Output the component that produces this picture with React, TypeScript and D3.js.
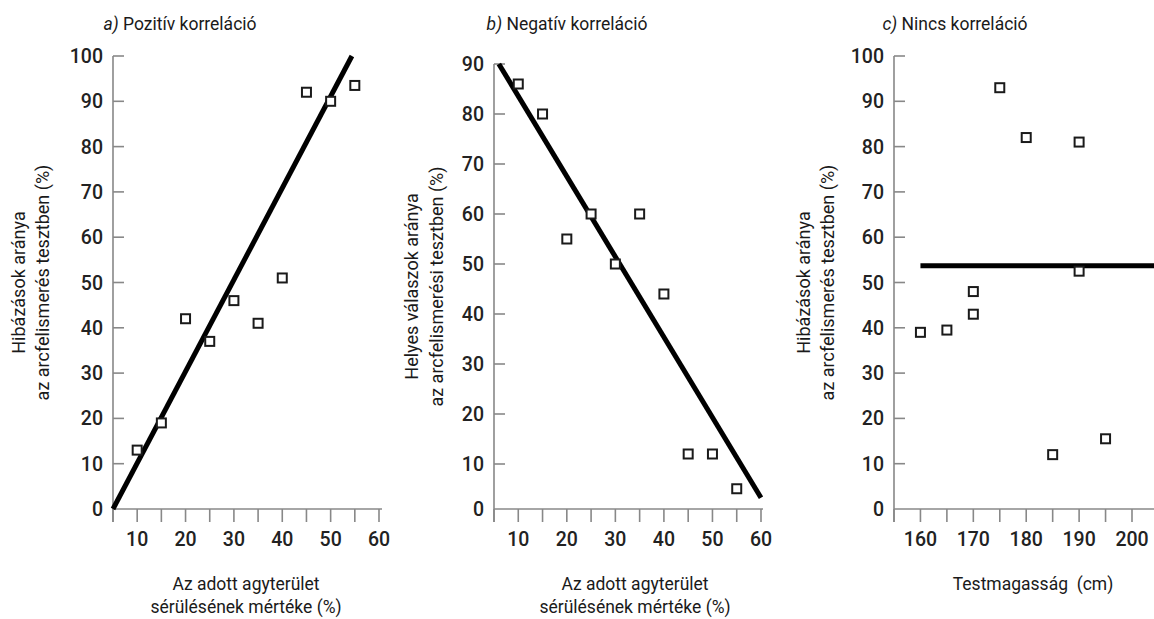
import React, { useEffect, useRef } from 'react';
import * as d3 from 'd3';

// a) brain damage (%) vs errors (%)
const damageA = [10, 15, 20, 25, 30, 35, 40, 45, 50, 55];
const errorsA = [13, 19, 42, 37, 46, 41, 51, 92, 90, 93.5];
const fitA = [[5, 0], [54.4, 100]];

// b) brain damage (%) vs correct answers (%)
const damageB = [10, 15, 20, 25, 30, 35, 40, 45, 50, 55];
const correctB = [86, 80, 55, 60, 50, 60, 44, 12, 12, 4.5];
const fitB = [[6, 90], [60, 2.5]];

// c) body height (cm) vs errors (%)
const heightC = [160, 165, 170, 170, 175, 180, 185, 190, 190, 195];
const errorsC = [39, 39.5, 48, 43, 93, 82, 12, 81, 52.5, 15.5];
const fitC = [[160, 53.7], [204.5, 53.7]];

const FONT = 'Roboto, "Liberation Sans", Arial, sans-serif';

interface Panel {
  letter: string;
  title: string;
  titleX: number;
  xs: number[];
  ys: number[];
  fit: number[][];
  x: d3.ScaleLinear<number, number>;
  y: d3.ScaleLinear<number, number>;
  axisEnd: number;
  xTicks: number[];
  yTicks: number[];
  yLabel: string[];
  yLabelX: number[];
  xLabel: string[];
  xLabelX: number;
}

const bottom = 509;

const panels: Panel[] = [
  {
    letter: 'a)', title: ' Pozitív korreláció', titleX: 180,
    xs: damageA, ys: errorsA, fit: fitA,
    x: d3.scaleLinear().domain([5, 60]).range([113, 379]),
    y: d3.scaleLinear().domain([0, 100]).range([bottom, 56]),
    axisEnd: 382,
    xTicks: d3.range(5, 61, 5), yTicks: d3.range(0, 101, 10),
    yLabel: ['Hibázások aránya', 'az arcfelismerés tesztben (%)'], yLabelX: [25, 49],
    xLabel: ['Az adott agyterület', 'sérülésének mértéke (%)'], xLabelX: 246,
  },
  {
    letter: 'b)', title: ' Negatív korreláció', titleX: 567,
    xs: damageB, ys: correctB, fit: fitB,
    x: d3.scaleLinear().domain([5, 60]).range([494, 761]),
    y: d3.scaleLinear().domain([0, 10, 90]).range([bottom, 464, 64]),
    axisEnd: 763,
    xTicks: d3.range(5, 61, 5), yTicks: d3.range(0, 91, 10),
    yLabel: ['Helyes válaszok aránya', 'az arcfelismerési tesztben (%)'], yLabelX: [418, 443],
    xLabel: ['Az adott agyterület', 'sérülésének mértéke (%)'], xLabelX: 635,
  },
  {
    letter: 'c)', title: ' Nincs korreláció', titleX: 955,
    xs: heightC, ys: errorsC, fit: fitC,
    x: d3.scaleLinear().domain([155, 200]).range([894, 1132]),
    y: d3.scaleLinear().domain([0, 100]).range([bottom, 56]),
    axisEnd: 1154,
    xTicks: d3.range(155, 201, 5), yTicks: d3.range(0, 101, 10),
    yLabel: ['Hibázások aránya', 'az arcfelismerés tesztben (%)'], yLabelX: [810, 834],
    xLabel: ['Testmagasság  (cm)'], xLabelX: 1033,
  },
];

export default function App() {
  const ref = useRef<SVGSVGElement>(null);

  useEffect(() => {
    const svg = d3.select(ref.current);
    svg.selectAll('*').remove();

    panels.forEach((p) => {
      const g = svg.append('g');
      const x0 = p.x.range()[0];
      const yMax = p.yTicks[p.yTicks.length - 1];

      // title
      const t = g.append('text')
        .attr('x', p.titleX).attr('y', 30)
        .attr('text-anchor', 'middle')
        .style('font-family', FONT).style('font-size', '17.5px').attr('fill', '#1a1a1a');
      t.append('tspan').style('font-style', 'italic').text(p.letter);
      t.append('tspan').text(p.title);

      // axis lines
      g.append('line')
        .attr('x1', x0).attr('x2', x0)
        .attr('y1', p.y(yMax)).attr('y2', bottom + 13)
        .attr('stroke', '#888').attr('stroke-width', 1.6);
      g.append('line')
        .attr('x1', x0).attr('x2', p.axisEnd)
        .attr('y1', bottom).attr('y2', bottom)
        .attr('stroke', '#888').attr('stroke-width', 1.6);

      // y ticks (inward)
      g.selectAll('.yt').data(p.yTicks.filter((d) => d > 0)).enter().append('line')
        .attr('x1', x0).attr('x2', x0 + 11)
        .attr('y1', (d) => p.y(d)).attr('y2', (d) => p.y(d))
        .attr('stroke', '#888').attr('stroke-width', 1.6);
      g.selectAll('.yl').data(p.yTicks).enter().append('text')
        .attr('x', x0 - 10).attr('y', (d) => p.y(d))
        .attr('dy', '0.36em').attr('text-anchor', 'end')
        .style('font-family', FONT).style('font-size', '19.5px').style('font-weight', 500)
        .attr('fill', '#222')
        .text((d) => d);

      // x ticks (outward)
      g.selectAll('.xt').data(p.xTicks).enter().append('line')
        .attr('x1', (d) => p.x(d)).attr('x2', (d) => p.x(d))
        .attr('y1', bottom).attr('y2', bottom + 13)
        .attr('stroke', '#888').attr('stroke-width', 1.6);
      g.selectAll('.xl').data(p.xTicks.filter((d) => d % 10 === 0)).enter().append('text')
        .attr('x', (d) => p.x(d)).attr('y', 546)
        .attr('text-anchor', 'middle')
        .style('font-family', FONT).style('font-size', '19.5px').style('font-weight', 500)
        .attr('fill', '#222')
        .text((d) => d);

      // y label
      const yc = (p.y(yMax) + bottom) / 2;
      p.yLabel.forEach((s, i) => {
        g.append('text')
          .attr('transform', `translate(${p.yLabelX[i]},${yc}) rotate(-90)`)
          .attr('text-anchor', 'middle')
          .style('font-family', FONT).style('font-size', '18px')
          .attr('fill', '#1a1a1a')
          .text(s);
      });

      // x label
      p.xLabel.forEach((s, i) => {
        g.append('text')
          .attr('x', p.xLabelX).attr('y', 590 + i * 23)
          .attr('text-anchor', 'middle')
          .style('font-family', FONT).style('font-size', '17.5px')
          .style('white-space', 'pre')
          .attr('fill', '#1a1a1a')
          .text(s);
      });

      // fit line
      const line = d3.line<number[]>().x((d) => p.x(d[0])).y((d) => p.y(d[1]));
      g.append('path')
        .attr('d', line(p.fit))
        .attr('stroke', '#000').attr('stroke-width', 5).attr('fill', 'none');

      // points
      g.selectAll('.pt').data(p.xs).enter().append('rect')
        .attr('x', (d) => p.x(d) - 4.5)
        .attr('y', (_, i) => p.y(p.ys[i]) - 4.5)
        .attr('width', 9).attr('height', 9)
        .attr('fill', '#fff').attr('stroke', '#1a1a1a').attr('stroke-width', 2);
    });
  }, []);

  return (
    <svg ref={ref} width={1154} height={619}
      style={{ position: 'absolute', left: 0, top: 0, background: '#fff' }} />
  );
}
